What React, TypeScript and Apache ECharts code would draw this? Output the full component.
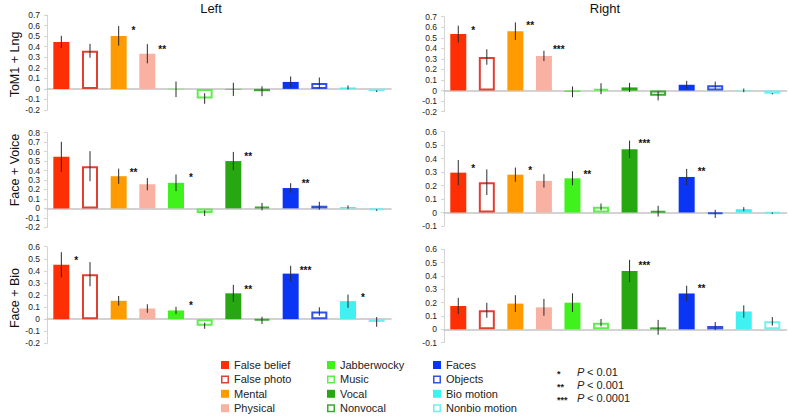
import React, { useEffect, useRef } from "react";
import * as echarts from "echarts";

const FONT = "'Liberation Sans', Arial, Helvetica, sans-serif";

const conditions = [
  "False belief", "False photo", "Mental", "Physical",
  "Jabberwocky", "Music", "Vocal", "Nonvocal",
  "Faces", "Objects", "Bio motion", "Nonbio motion",
];
const conditionColors = [
  "#ff2f05", "#e0402f", "#ff9a00", "#f9b2a2",
  "#3ff21c", "#5cef4c", "#27a812", "#3fa634",
  "#0a35f5", "#2f52e2", "#3ff1f1", "#6ff0f0",
];
const conditionOpen = [false, true, false, false, false, true, false, true, false, true, false, true];

const columnTitles = ["Left", "Right"];
const rowNames = ["ToM1 + Lng", "Face + Voice", "Face + Bio"];

// ToM1 + Lng
const leftTomValues = [0.445, 0.361, 0.502, 0.333, -0.004, -0.091, -0.005, -0.022, 0.066, 0.056, 0.013, -0.022];
const leftTomErrors = [0.058, 0.066, 0.093, 0.091, 0.074, 0.05, 0.063, 0.047, 0.052, 0.052, 0.019, 0.008];
const leftTomStars: [number, string, number][] = [[2, "*", 0.57], [3, "**", 0.39]];
const leftTomRange = [-0.2, 0.7];

const rightTomValues = [0.535, 0.318, 0.563, 0.328, -0.012, 0.018, 0.03, -0.05, 0.055, 0.05, 0.002, -0.03];
const rightTomErrors = [0.08, 0.073, 0.083, 0.049, 0.051, 0.052, 0.043, 0.043, 0.037, 0.035, 0.017, 0.006];
const rightTomStars: [number, string, number][] = [[0, "*", 0.59], [2, "**", 0.64], [3, "***", 0.41]];
const rightTomRange = [-0.2, 0.7];

// Face + Voice
const leftVoiceValues = [0.545, 0.446, 0.34, 0.255, 0.27, -0.05, 0.5, 0.018, 0.215, 0.028, 0.014, -0.018];
const leftVoiceErrors = [0.159, 0.159, 0.08, 0.065, 0.088, 0.03, 0.097, 0.039, 0.051, 0.042, 0.018, 0.008];
const leftVoiceStars: [number, string, number][] = [[2, "**", 0.4], [4, "*", 0.35], [6, "**", 0.57], [8, "**", 0.28]];
const leftVoiceRange = [-0.2, 0.8];

const rightVoiceValues = [0.296, 0.225, 0.281, 0.235, 0.254, 0.042, 0.47, 0.01, 0.264, -0.01, 0.025, -0.005];
const rightVoiceErrors = [0.094, 0.095, 0.053, 0.05, 0.052, 0.025, 0.064, 0.04, 0.06, 0.03, 0.015, 0.005];
const rightVoiceStars: [number, string, number][] = [[0, "*", 0.34], [2, "*", 0.33], [4, "**", 0.3], [6, "***", 0.53], [8, "**", 0.32]];
const rightVoiceRange = [-0.1, 0.6];

// Face + Bio
const leftBioValues = [0.45, 0.372, 0.152, 0.088, 0.072, -0.055, 0.214, -0.01, 0.377, 0.063, 0.149, -0.023];
const leftBioErrors = [0.105, 0.1, 0.04, 0.035, 0.03, 0.025, 0.07, 0.03, 0.065, 0.035, 0.055, 0.04];
const leftBioStars: [number, string, number][] = [[0, "*", 0.5], [4, "*", 0.13], [6, "**", 0.26], [8, "***", 0.42], [10, "*", 0.2]];
const leftBioRange = [-0.2, 0.6];

const rightBioValues = [0.175, 0.143, 0.193, 0.165, 0.2, 0.05, 0.438, 0.015, 0.269, 0.025, 0.134, 0.06];
const rightBioErrors = [0.061, 0.056, 0.063, 0.063, 0.07, 0.028, 0.083, 0.056, 0.058, 0.03, 0.046, 0.032];
const rightBioStars: [number, string, number][] = [[6, "***", 0.49], [8, "**", 0.32]];
const rightBioRange = [-0.1, 0.6];

const pStars = ["*", "**", "***"];
const pThresholds = ["0.01", "0.001", "0.0001"];

const panels = [
  { values: leftTomValues, errors: leftTomErrors, stars: leftTomStars, range: leftTomRange },
  { values: rightTomValues, errors: rightTomErrors, stars: rightTomStars, range: rightTomRange },
  { values: leftVoiceValues, errors: leftVoiceErrors, stars: leftVoiceStars, range: leftVoiceRange },
  { values: rightVoiceValues, errors: rightVoiceErrors, stars: rightVoiceStars, range: rightVoiceRange },
  { values: leftBioValues, errors: leftBioErrors, stars: leftBioStars, range: leftBioRange },
  { values: rightBioValues, errors: rightBioErrors, stars: rightBioStars, range: rightBioRange },
];

const gridBoxes = [
  { left: 47, top: 15, width: 344, height: 95 },
  { left: 444, top: 16.7, width: 342.6, height: 95 },
  { left: 47, top: 132.7, width: 344, height: 94.6 },
  { left: 444, top: 131.7, width: 342.6, height: 94.3 },
  { left: 47, top: 246.7, width: 344, height: 96.6 },
  { left: 444, top: 249.3, width: 342.6, height: 93.4 },
];

function buildOption() {
  const grid: any[] = [];
  const xAxis: any[] = [];
  const yAxis: any[] = [];
  const series: any[] = [];

  panels.forEach((p, g) => {
    grid.push({ ...gridBoxes[g], containLabel: false });
    xAxis.push({
      type: "category",
      gridIndex: g,
      data: conditions,
      axisLabel: { show: false },
      axisTick: { show: false },
      axisLine: { show: true, onZero: true, lineStyle: { color: "#c4c4c4", width: 1.5 } },
      splitLine: { show: false },
    });
    yAxis.push({
      type: "value",
      gridIndex: g,
      min: p.range[0],
      max: p.range[1],
      interval: 0.1,
      axisLine: { show: true, lineStyle: { color: "#d4d4d4", width: 1 } },
      axisTick: { show: true, length: 3, lineStyle: { color: "#d4d4d4" } },
      splitLine: { show: false },
      axisLabel: {
        fontSize: 8.5,
        color: "#222",
        fontFamily: FONT,
        margin: 7,
        formatter: (v: number) => String(Math.round(v * 10) / 10),
      },
    });
    series.push({
      type: "bar",
      xAxisIndex: g,
      yAxisIndex: g,
      barWidth: 16,
      z: 2,
      data: p.values.map((v, i) => ({
        value: v,
        itemStyle: conditionOpen[i]
          ? { color: "#ffffff", borderColor: conditionColors[i], borderWidth: 2 }
          : { color: conditionColors[i], borderWidth: 0 },
      })),
    });
    const errs = p.errors;
    series.push({
      type: "custom",
      xAxisIndex: g,
      yAxisIndex: g,
      z: 5,
      data: p.values.map((v, i) => [i, v]),
      renderItem: (params: any, api: any) => {
        const i = api.value(0);
        const v = api.value(1);
        const e = errs[params.dataIndex];
        const a = api.coord([i, v + e]);
        const b = api.coord([i, v - e]);
        return {
          type: "line",
          shape: { x1: a[0], y1: a[1], x2: b[0], y2: b[1] },
          style: { stroke: "#2b2b2b", lineWidth: 1 },
        };
      },
    });
    const stars = p.stars;
    series.push({
      type: "custom",
      xAxisIndex: g,
      yAxisIndex: g,
      z: 6,
      data: stars.map((s) => [s[0], s[2]]),
      renderItem: (params: any, api: any) => {
        const c = api.coord([api.value(0), api.value(1)]);
        const bw = api.size([1, 0])[0];
        return {
          type: "text",
          x: c[0] + bw * 0.52,
          y: c[1] + 2,
          style: {
            text: stars[params.dataIndex][1],
            align: "center",
            verticalAlign: "middle",
            fontSize: 10,
            fontWeight: "bold",
            fill: "#111",
            fontFamily: FONT,
          },
        };
      },
    });
  });

  const graphic: any[] = [];
  // column titles
  const titleX = [211, 605];
  columnTitles.forEach((t, k) => {
    graphic.push({
      type: "text",
      x: titleX[k],
      y: 8,
      style: { text: t, align: "center", verticalAlign: "middle", fontSize: 13, fill: "#111", fontFamily: FONT },
    });
  });
  // row names
  const rowY = [64.5, 170, 298];
  rowNames.forEach((t, k) => {
    graphic.push({
      type: "text",
      x: 15,
      y: rowY[k],
      rotation: Math.PI / 2,
      style: { text: t, align: "center", verticalAlign: "middle", fontSize: 12.5, fill: "#111", fontFamily: FONT },
    });
  });
  // legend
  const colX = [221, 327, 433];
  const rowLy = [365, 379.4, 393.8, 408.2];
  conditions.forEach((name, k) => {
    const col = Math.floor(k / 4);
    const row = k % 4;
    const x = colX[col];
    const y = rowLy[row];
    graphic.push({
      type: "rect",
      shape: conditionOpen[k]
        ? { x: x + 0.75, y: y - 4 + 0.75, width: 6.5, height: 6.5 }
        : { x, y: y - 4, width: 8, height: 8 },
      style: conditionOpen[k]
        ? { fill: "#fff", stroke: conditionColors[k], lineWidth: 1.5 }
        : { fill: conditionColors[k] },
    });
    graphic.push({
      type: "text",
      x: x + 13,
      y: y,
      style: { text: name, align: "left", verticalAlign: "middle", fontSize: 11, fill: "#222", fontFamily: FONT },
    });
  });
  const pRowY = [372.3, 385, 397.7];
  pStars.forEach((s, k) => {
    graphic.push({
      type: "text",
      x: 557,
      y: pRowY[k] + 2,
      style: { text: s, align: "left", verticalAlign: "middle", fontSize: 9, fontWeight: "bold", fill: "#222", fontFamily: FONT },
    });
    graphic.push({
      type: "text",
      x: 577,
      y: pRowY[k],
      style: { text: "P", align: "left", verticalAlign: "middle", fontSize: 11, fontStyle: "italic", fill: "#222", fontFamily: FONT },
    });
    graphic.push({
      type: "text",
      x: 587,
      y: pRowY[k],
      style: { text: "< " + pThresholds[k], align: "left", verticalAlign: "middle", fontSize: 11, fill: "#222", fontFamily: FONT },
    });
  });

  return {
    animation: false,
    backgroundColor: "#ffffff",
    textStyle: { fontFamily: FONT },
    grid,
    xAxis,
    yAxis,
    series,
    graphic,
  };
}

export default function App() {
  const ref = useRef<HTMLDivElement>(null);
  useEffect(() => {
    if (!ref.current) return;
    const chart = echarts.init(ref.current, undefined, { renderer: "svg" });
    chart.setOption(buildOption() as any);
    return () => chart.dispose();
  }, []);
  return (
    <div
      ref={ref}
      style={{ position: "fixed", left: 0, top: 0, width: 789, height: 416, background: "#fff" }}
    />
  );
}
